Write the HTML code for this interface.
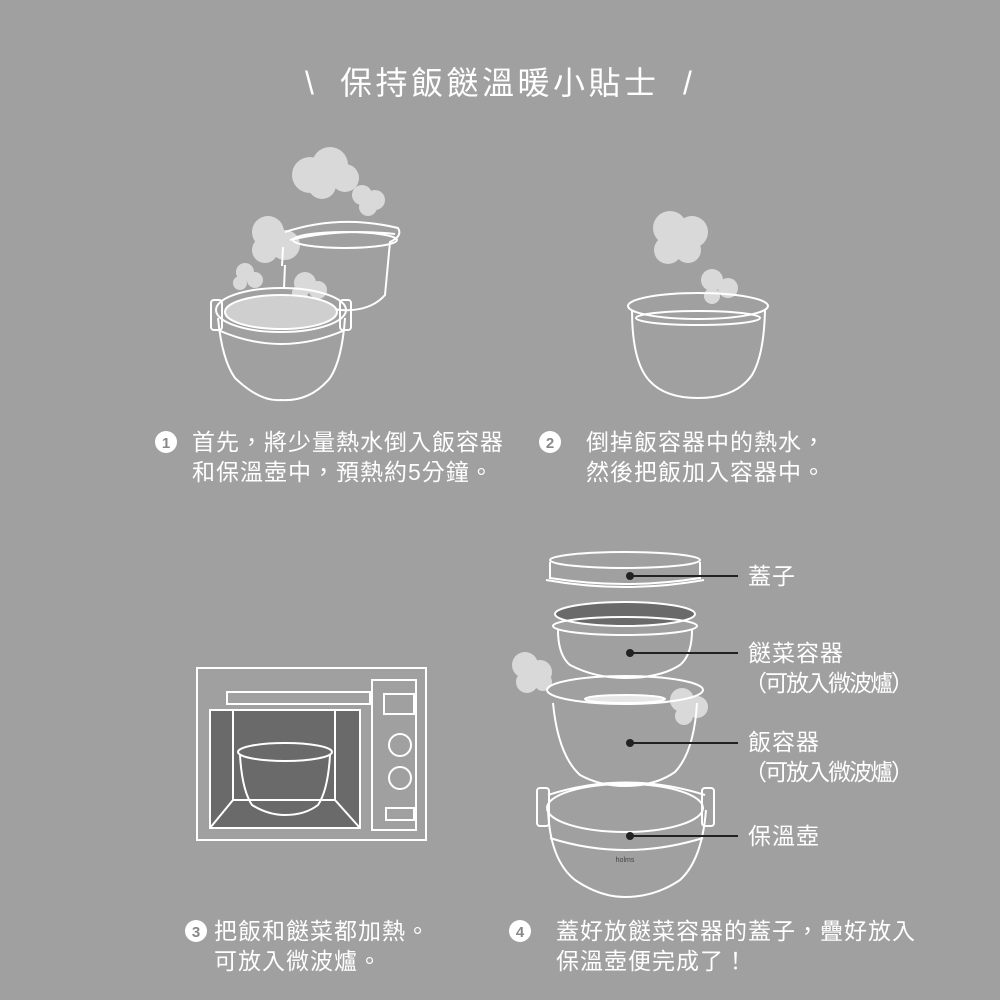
<!DOCTYPE html>
<html><head><meta charset="utf-8"><style>
html,body{margin:0;padding:0}
body{width:1000px;height:1000px;background:#a0a0a0;overflow:hidden;position:relative;font-family:"Liberation Sans","Noto Sans CJK TC",sans-serif;color:#fff}
.t{position:absolute;font-size:23px;line-height:30px;letter-spacing:1px;white-space:nowrap}
.p{letter-spacing:-2px;margin-left:-4px}
svg{position:absolute;left:0;top:0}
</style></head><body>
<svg width="1000" height="1000" viewBox="0 0 1000 1000" fill="none" stroke="#fff" stroke-width="2">
<g fill="#d9d9d9" stroke="none">
<circle cx="310" cy="175" r="18"/><circle cx="330" cy="165" r="18"/><circle cx="345" cy="178" r="14"/><circle cx="322" cy="185" r="14"/>
<circle cx="362" cy="195" r="10"/><circle cx="375" cy="200" r="10"/><circle cx="368" cy="207" r="9"/>
<circle cx="268" cy="232" r="16"/><circle cx="285" cy="245" r="15"/><circle cx="265" cy="250" r="13"/>
<circle cx="245" cy="272" r="9"/><circle cx="255" cy="280" r="8"/><circle cx="240" cy="283" r="7"/>
<circle cx="305" cy="283" r="11"/><circle cx="318" cy="290" r="9"/><circle cx="300" cy="293" r="8"/>
</g>
<path d="M285 232 Q340 214 398 228 Q403 236 390 242 L385 295 Q370 312 340 310 L318 306"/>
<path d="M290 240 Q340 228 395 234"/>
<ellipse cx="345" cy="240" rx="52" ry="8"/>
<path d="M283 247 L282 266"/><path d="M285 265 L284 288"/>
<ellipse cx="281" cy="310" rx="65" ry="22"/>
<ellipse cx="281" cy="312" rx="56" ry="17" fill="#cfcfcf"/>
<path d="M218 318 Q222 360 235 378 Q260 402 281 400 Q310 402 330 378 Q342 360 345 318"/>
<path d="M218 330 Q281 358 345 330"/>
<rect x="211" y="300" width="11" height="30" rx="3"/><rect x="340" y="300" width="11" height="30" rx="3"/>
<g fill="#d9d9d9" stroke="none">
<circle cx="670" cy="228" r="17"/><circle cx="692" cy="232" r="16"/><circle cx="668" cy="250" r="14"/><circle cx="688" cy="250" r="13"/>
<circle cx="712" cy="280" r="11"/><circle cx="728" cy="288" r="10"/><circle cx="712" cy="296" r="8"/>
</g>
<ellipse cx="698" cy="306" rx="70" ry="13"/>
<ellipse cx="698" cy="318" rx="62" ry="7"/>
<path d="M632 310 Q632 355 645 375 Q660 398 698 398 Q736 398 752 375 Q764 355 765 310"/>
<rect x="197" y="668" width="229" height="172"/>
<rect x="227" y="692" width="143" height="12"/>
<rect x="210" y="710" width="150" height="118" fill="#6a6a6a"/>
<path d="M210 710 L233 710 L233 800 L210 828 M360 710 L335 710 L335 800 L360 828 M233 800 L335 800"/>
<rect x="372" y="680" width="44" height="150"/>
<rect x="384" y="694" width="30" height="20"/>
<circle cx="400" cy="745" r="11"/><circle cx="400" cy="778" r="11"/>
<rect x="386" y="808" width="28" height="12"/>
<ellipse cx="285" cy="752" rx="47" ry="9"/>
<path d="M240 755 Q242 790 252 805 Q268 815 285 815 Q305 815 318 805 Q328 790 330 755"/>
<ellipse cx="625" cy="560" rx="75" ry="8"/>
<path d="M550 562 L550 578 Q625 590 700 578 L700 562"/>
<path d="M546 580 Q625 594 704 580"/>
<ellipse cx="625" cy="614" rx="70" ry="12" fill="#6a6a6a"/>
<ellipse cx="625" cy="626" rx="72" ry="9"/>
<path d="M558 630 Q558 655 570 665 Q595 678 625 678 Q660 678 680 665 Q692 655 692 630"/>
<g fill="#d9d9d9" stroke="none">
<circle cx="525" cy="665" r="13"/><circle cx="540" cy="672" r="12"/><circle cx="527" cy="682" r="11"/><circle cx="543" cy="682" r="9"/>
<circle cx="682" cy="700" r="12"/><circle cx="697" cy="707" r="11"/><circle cx="684" cy="716" r="9"/>
</g>
<ellipse cx="625" cy="690" rx="78" ry="14"/>
<ellipse cx="625" cy="699" rx="40" ry="4" fill="#e6e6e6"/>
<path d="M553 703 Q558 755 580 775 Q600 786 625 786 Q655 786 675 772 Q694 752 697 703"/>
<path d="M548 795 Q625 770 705 795"/>
<ellipse cx="625" cy="808" rx="78" ry="24"/>
<path d="M548 810 Q550 860 575 880 Q600 897 625 897 Q655 897 680 880 Q702 860 706 810"/>
<path d="M550 838 Q625 862 703 838"/>
<rect x="537" y="788" width="12" height="38" rx="3"/><rect x="702" y="788" width="12" height="38" rx="3"/>
<g stroke="#222" stroke-width="2">
<line x1="630" y1="576" x2="738" y2="576"/><line x1="630" y1="653" x2="738" y2="653"/><line x1="630" y1="743" x2="738" y2="743"/><line x1="630" y1="836" x2="738" y2="836"/>
</g>
<g fill="#222" stroke="none"><circle cx="630" cy="576" r="4"/><circle cx="630" cy="653" r="4"/><circle cx="630" cy="743" r="4"/><circle cx="630" cy="836" r="4"/></g>
<text x="625" y="862" fill="#444" stroke="none" font-size="7" text-anchor="middle" font-family="Liberation Sans">holms</text>
<g fill="#fff" stroke="none"><circle cx="166" cy="442" r="11"/><circle cx="550" cy="442" r="11"/><circle cx="196" cy="931" r="11"/><circle cx="520" cy="931" r="11"/></g>
<g fill="#888" stroke="none" font-size="15" font-weight="bold" text-anchor="middle" font-family="Liberation Sans">
<text x="166" y="448">1</text><text x="550" y="448">2</text><text x="196" y="937">3</text><text x="520" y="937">4</text></g>
</svg>
<div class="t" style="left:305px;top:64px;font-size:32px;line-height:38px;letter-spacing:0">\</div>
<div class="t" style="left:340px;top:64px;font-size:32px;line-height:38px;letter-spacing:3.5px">保持飯餸溫暖小貼士</div>
<div class="t" style="left:683px;top:64px;font-size:32px;line-height:38px;letter-spacing:0">/</div>
<div class="t" style="left:192px;top:427px">首先，將少量熱水倒入飯容器<br>和保溫壺中，預熱約5分鐘。</div>
<div class="t" style="left:586px;top:427px">倒掉飯容器中的熱水，<br>然後把飯加入容器中。</div>
<div class="t" style="left:214px;top:916px">把飯和餸菜都加熱。<br>可放入微波爐。</div>
<div class="t" style="left:556px;top:916px">蓋好放餸菜容器的蓋子，疊好放入<br>保溫壺便完成了！</div>
<div class="t" style="left:748px;top:561px">蓋子</div>
<div class="t" style="left:748px;top:638px">餸菜容器<br><span class="p">（可放入微波爐）</span></div>
<div class="t" style="left:748px;top:727px">飯容器<br><span class="p">（可放入微波爐）</span></div>
<div class="t" style="left:748px;top:821px">保溫壺</div>
</body></html>
